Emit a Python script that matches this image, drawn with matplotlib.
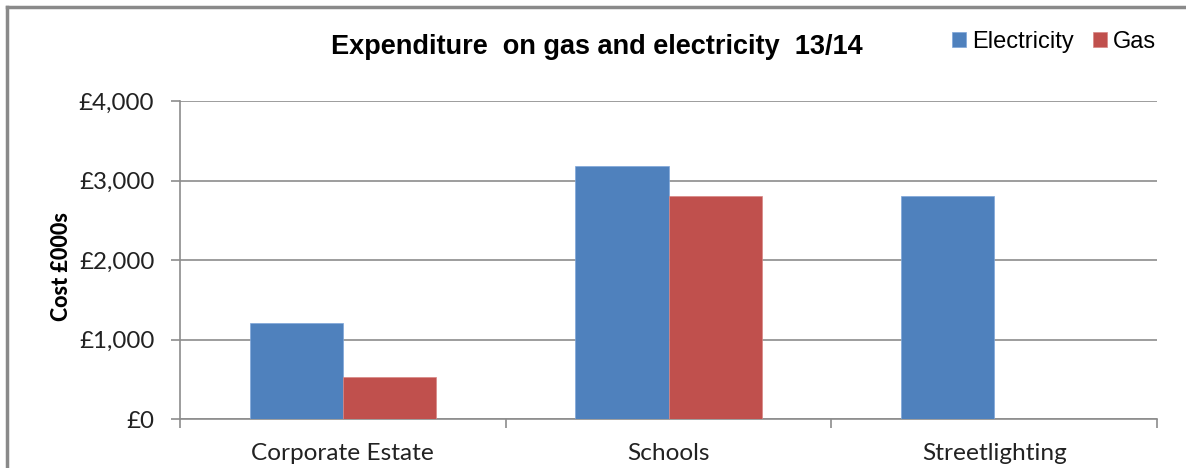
# Expenditure on gas and electricity 13/14, grouped bar chart in an Excel-like style.

import numpy as np
import matplotlib
matplotlib.use("Agg")
import matplotlib.pyplot as plt
from matplotlib.ticker import FuncFormatter, FixedLocator, NullFormatter
from matplotlib.lines import Line2D

categories = ["Corporate Estate", "Schools", "Streetlighting"]
electricity = [1210, 3185, 2805]
gas = [530, 2805, 0]
series_names = ["Electricity", "Gas"]
y_ticks = [0, 1000, 2000, 3000, 4000]

BLUE = "#4f81bd"
RED = "#c0504d"
GRID = "#8c8c8c"

fig = plt.figure(figsize=(11.86, 4.68), dpi=100)
ax = fig.add_axes([180 / 1186, 1 - 419 / 468, (1157 - 180) / 1186, (419 - 101) / 468])

x = np.arange(len(categories))
w = 1 / 3.5  # Excel gap width 150%
ax.bar(x - w / 2, electricity, width=w, color=BLUE, label=series_names[0],
       edgecolor="#7ea6d9", linewidth=0.5, zorder=3)
ax.bar(x + w / 2, gas, width=w, color=RED, label=series_names[1],
       edgecolor="#d88784", linewidth=0.5, zorder=3)

ax.set_xlim(-0.5, len(categories) - 0.5)
ax.set_ylim(0, 4000)

# y axis: currency labels and horizontal gridlines
ax.set_yticks(y_ticks)
ax.yaxis.set_major_formatter(FuncFormatter(lambda v, p: f"£{int(v):,}"))
ax.yaxis.grid(True, color=GRID, linewidth=1.2, zorder=0)
ax.tick_params(axis="y", length=6.5, width=1.2, color=GRID, pad=12,
               labelsize=17.4, labelcolor="#222222")
for lab in ax.get_yticklabels():
    lab.set_fontfamily("Lato")

# x axis: ticks between categories, labels centred under groups
ax.xaxis.set_major_locator(FixedLocator(np.arange(len(categories) + 1) - 0.5))
ax.xaxis.set_major_formatter(NullFormatter())
ax.xaxis.set_minor_locator(FixedLocator(x))
ax.set_xticklabels(categories, minor=True)
ax.tick_params(axis="x", which="major", length=6.5, width=1.2, color=GRID, direction="out")
ax.tick_params(axis="x", which="minor", length=0, pad=17, labelsize=17.6, labelcolor="#222222")
for lab in ax.get_xticklabels(minor=True):
    lab.set_fontfamily("Lato")

for side in ["top", "right"]:
    ax.spines[side].set_visible(False)
for side in ["left", "bottom"]:
    ax.spines[side].set_color(GRID)
    ax.spines[side].set_linewidth(1.2)

ax.set_ylabel("Cost £000s", fontsize=15.5, fontweight="black", family="Lato")
# label sits a little below the axes' middle, as in the original
ax.yaxis.set_label_coords(-108 / 977, 0.48)

fig.text(597 / 1186, 1 - 47 / 468, "Expenditure  on gas and electricity  13/14",
         ha="center", va="center", fontsize=19.5, fontweight="bold", family="Liberation Sans")

ax.legend(loc="center left", bbox_to_anchor=(931 / 1186, 1 - 42 / 468),
          bbox_transform=fig.transFigure, ncol=2, frameon=False,
          prop={"family": "Liberation Sans", "size": 17},
          handlelength=0.6, handleheight=0.6, handletextpad=0.25, columnspacing=0.8)

# chart area border (left and top edges visible in the crop)
fig.add_artist(Line2D([7 / 1186, 7 / 1186], [0, 1 - 7 / 468], transform=fig.transFigure,
                      color="#8a8a8a", linewidth=2.5))
fig.add_artist(Line2D([7 / 1186, 1], [1 - 7 / 468, 1 - 7 / 468], transform=fig.transFigure,
                      color="#8a8a8a", linewidth=2.5))

fig.savefig("out.png", dpi=100)
